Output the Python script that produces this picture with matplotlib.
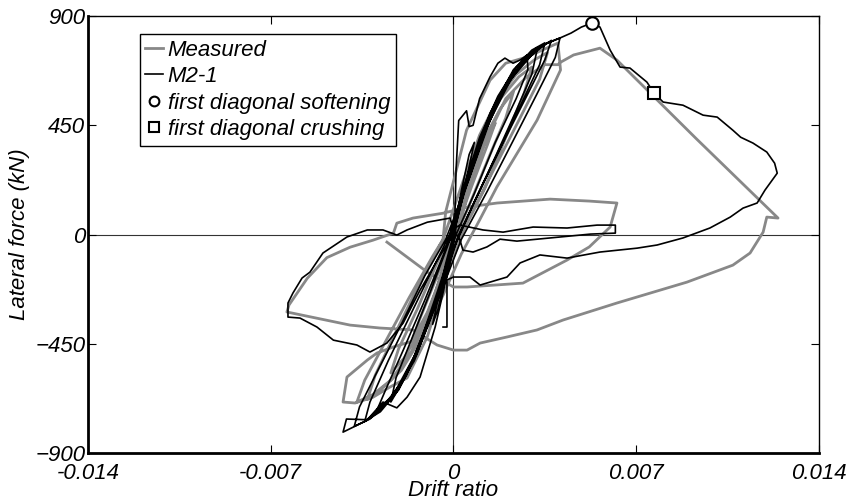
import numpy as np
import matplotlib
matplotlib.use('Agg')
import matplotlib.pyplot as plt
from matplotlib.lines import Line2D

# drift values below are in units of 1e-3, forces in kN

# measured: small elastic cycles
meas_small_drift = [0, 0.4, 0.8, 1.0, 0.7, 0.3, 0, -0.4, -0.8, -1.0, -0.7, -0.3, 0,
                    0.5, 1.0, 1.6, 1.3, 0.7, 0.1, -0.5, -1.0, -1.6, -1.3, -0.7, -0.1,
                    0.6, 1.2, 1.8, 2.3, 2.0, 1.4, 0.6, 0.0, -0.6, -1.3, -1.9, -2.4, -2.1, -1.4, -0.6, 0.0,
                    0.5, 1.1, 1.8, 2.5, 3.0, 2.7, 2.0, 1.2, 0.4, -0.5, -1.2, -2.0, -2.8, -3.3, -3.0, -2.2, -1.3, -0.4,
                    0.4, 1.0, 1.7, 2.4, 3.1, 3.6, 3.3, 2.5, 1.6, 0.7, -0.1, -0.8, -1.6, -2.4, -3.1, -3.7,
                    -3.4, -2.6, -1.7, -0.8, -0.4]
meas_small_force = [0, 150, 290, 340, 250, 110, 0, -150, -280, -330, -240, -100, 0,
                    190, 330, 460, 370, 200, 20, -180, -320, -440, -350, -190, -20,
                    230, 400, 520, 590, 480, 330, 120, -30, -230, -400, -510, -570, -470, -310, -110, 20,
                    240, 420, 560, 650, 690, 580, 400, 190, 20, -230, -420, -560, -640, -680, -580, -400, -200, -20,
                    230, 410, 560, 660, 720, 750, 640, 470, 280, 90, -80, -300, -480, -600, -660, -690,
                    -600, -440, -260, -90, -20]

# measured: largest pre-peak cycle
meas_cycle_drift = [-0.3, 0.5, 1.4, 2.0, 2.8, 4.0, 4.1, 3.2, 1.66, 1.0, 0.3, -0.4, -1.0, -1.6,
                    -2.3, -2.93, -3.3, -4.08, -4.23, -3.77, -3.08, -2.43, -1.78, -1.0, -0.5, 0.0,
                    0.5, 1.2, 2.0, 2.8, 3.5, 4.0]
meas_cycle_force = [93, 430, 636, 706, 731, 789, 678, 471, 196, 60, -80, -250, -380, -440,
                    -463, -488, -517, -587, -690, -694, -670, -628, -591, -420, -250, -60,
                    150, 380, 560, 650, 700, 700]

# measured: big excursion and the degraded cycles after it
meas_post_drift = [4.1, 4.6, 5.61, 6.26, 9.3, 12.43, 12.0, 11.86, 11.36, 10.7, 8.94, 6.26, 4.2,
                   3.2, 2.05, 1.02, 0.52, 0.0, -0.63, -1.55, -2.82, -3.96, -6.38,
                   -6.3, -5.6, -4.85, -3.96, -3.08, -2.3, -2.17, -1.55, -0.4, 0.52, 1.67,
                   3.7, 5.2, 6.26, 6.0, 5.2, 4.35, 2.66, 0.52, 0.0, -1.0, -2.55]
meas_post_force = [710, 740, 768, 719, 395, 68, 72, 10, -76, -126, -196, -282, -352,
                   -393, -422, -447, -476, -476, -455, -393, -385, -373, -319,
                   -290, -180, -95, -52, -23, 6, 47, 68, 88, 113, 130,
                   146, 138, 130, 31, -51, -105, -200, -216, -216, -155, -31]

# M2-1 model: cycles
m21_small_drift = [0, 0.3, 0.6, 0.8, 0.6, 0.3, 0, -0.3, -0.6, -0.8, -0.6, -0.3, 0,
                   0.05, 0.1, 0.2, 0.5, 0.6, 0.75, 1.0, 1.4, 1.7, 1.97, 2.28, 2.55, 2.82,
                   2.85, 2.4, 1.6, 0.8, 0.1, -0.6, -1.2, -1.8, -2.4, -2.2, -1.6, -0.9, -0.2,
                   0.5, 1.2, 1.9, 2.6, 3.2, 3.0, 2.4, 1.6, 0.7, 0, -0.7, -1.5, -2.3, -2.93,
                   -2.6, -1.9, -1.1, -0.3,
                   0.4, 1.0, 1.7, 2.4, 3.0, 3.5, 3.3, 2.6, 1.8, 0.9, 0.1, -0.6, -1.4, -2.1,
                   -2.8, -3.4, -3.2, -2.5, -1.6, -0.7, -0.1,
                   0.5, 1.3, 2.0, 2.7, 3.3, 3.75, 3.5, 2.8, 2.0, 1.1, 0.2, -0.5, -1.3, -2.0,
                   -2.7, -3.2, -3.8, -3.6, -2.9, -2.0, -1.1, -0.3,
                   0.6, 1.4, 2.2, 3.0, 3.6, 4.08, 3.9, 3.2, 2.3, 1.3, 0.3, -0.6, -1.5, -2.4,
                   -3.4, -4.23, -4.1, -3.3, -2.7, -2.17, -1.78, -1.28, -0.7, -0.1]
m21_small_force = [0, 180, 330, 380, 280, 130, 0, -170, -310, -370, -270, -120, 0,
                   60, 270, 470, 510, 445, 450, 560, 650, 706, 727, 706, 719, 740,
                   680, 560, 380, 170, 0, -230, -420, -580, -690, -590, -430, -240, -40,
                   200, 420, 590, 700, 760, 660, 510, 320, 110, -60, -280, -500, -660, -723,
                   -640, -470, -270, -60,
                   200, 400, 570, 690, 760, 790, 700, 540, 360, 160, -30, -260, -490, -640,
                   -730, -770, -690, -520, -320, -120, 10,
                   220, 460, 620, 720, 770, 800, 720, 570, 400, 200, 0, -240, -460, -610,
                   -710, -760, -790, -710, -560, -370, -170, -20,
                   230, 470, 640, 740, 790, 810, 730, 580, 390, 180, -20, -270, -520, -680,
                   -770, -814, -760, -763, -690, -714, -670, -587, -380, -100]

# M2-1 model: flat positive loop and wide negative loop
m21_mid_drift = [0.1, 0.25, 1.13, 1.9, 3.05, 4.35, 5.5, 6.2, 6.2, 5.25, 3.7, 2.43, 1.78, 1.28,
                 0.75, 0.36, 0.25, 0.0, -0.13, -1.0, -1.78, -2.17, -2.7, -3.3, -4.08, -5.0,
                 -5.5, -5.8, -6.15, -6.34, -6.34, -5.88, -5.23, -4.6, -3.7, -3.2, -2.55,
                 -1.93, -1.28, -0.5, 0.0, 0.6, 1.4, 2.3, 3.2, 4.08]
m21_mid_force = [30, 39, 19, 10, 31, 27, 39, 39, 6, 2, -14, -27, -19, -51,
                 -72, -64, -23, 20, 68, 51, 19, -2, 19, 19, -10, -76,
                 -155, -179, -241, -282, -340, -344, -381, -435, -455, -484, -447,
                 -365, -229, -84, 0, 260, 500, 680, 770, 810]

# M2-1 model: final excursion past the peak
m21_post_drift = [4.5, 4.9, 5.29, 5.61, 6.0, 6.38, 6.76, 7.41, 7.68, 8.03, 8.79, 9.56, 10.1,
                  10.7, 11.0, 11.47, 12.0, 12.3, 12.4, 11.93, 11.63, 11.09, 10.6, 9.82, 8.79,
                  7.8, 7.03, 5.61, 4.35, 3.31, 2.55, 2.05, 1.02, 0.63, 0.0, -0.25, -0.25, -0.4]
m21_post_force = [830, 855, 871, 855, 760, 690, 686, 628, 583, 546, 533, 492, 484,
                  430, 401, 377, 340, 294, 253, 183, 130, 109, 72, 27, -14,
                  -43, -56, -72, -97, -84, -117, -175, -208, -175, -175, -187, -381, -381]

# events
soft_drift, soft_force = 5.29, 870
crush_drift, crush_force = 7.68, 584

meas_x = np.concatenate([meas_small_drift, meas_cycle_drift, meas_post_drift]) * 1e-3
meas_y = np.concatenate([meas_small_force, meas_cycle_force, meas_post_force])
m21_x = np.concatenate([m21_small_drift, m21_mid_drift, m21_post_drift]) * 1e-3
m21_y = np.concatenate([m21_small_force, m21_mid_force, m21_post_force])

plt.rcParams['font.family'] = ['Liberation Sans', 'DejaVu Sans']
plt.rcParams['font.style'] = 'italic'
plt.rcParams['font.size'] = 16

fig = plt.figure(figsize=(8.55, 5.01), dpi=100)
ax = fig.add_axes([0.1029, 0.0958, 0.855, 0.872])

ax.axhline(0, color='#333333', lw=0.8, zorder=1)
ax.axvline(0, color='#333333', lw=0.8, zorder=1)

ax.plot(meas_x, meas_y, color='#888888', lw=2.0, zorder=2)
ax.plot(m21_x, m21_y, color='black', lw=1.2, zorder=3)
ax.plot(soft_drift * 1e-3, soft_force, 'o', ms=9, mfc='white', mec='black', mew=1.5, zorder=4)
ax.plot(crush_drift * 1e-3, crush_force, 's', ms=8.5, mfc='white', mec='black', mew=1.5, zorder=4)

ax.set_xlim(-0.014, 0.014)
ax.set_ylim(-900, 900)
ax.set_xticks([-0.014, -0.007, 0, 0.007, 0.014])
ax.set_xticklabels(['-0.014', '-0.007', '0', '0.007', '0.014'])
ax.set_yticks([-900, -450, 0, 450, 900])
ax.tick_params(axis='both', direction='in', length=6, top=True, right=True)
ax.tick_params(axis='x', pad=7)
ax.tick_params(axis='y', pad=2)
for s in ['left', 'bottom']:
    ax.spines[s].set_linewidth(2)
for s in ['top', 'right']:
    ax.spines[s].set_linewidth(1)

ax.set_xlabel('Drift ratio', labelpad=-3)
ax.set_ylabel('Lateral force (kN)', labelpad=4)

handles = [Line2D([], [], color='#888888', lw=2.0),
           Line2D([], [], color='black', lw=1.2),
           Line2D([], [], ls='none', marker='o', ms=7, mfc='white', mec='black', mew=1.5),
           Line2D([], [], ls='none', marker='s', ms=7, mfc='white', mec='black', mew=1.5)]
leg = ax.legend(handles, ['Measured', 'M2-1', 'first diagonal softening', 'first diagonal crushing'],
                loc='upper left', bbox_to_anchor=(0.071, 0.959), borderaxespad=0,
                handlelength=0.8, handletextpad=0.2, labelspacing=0.25, borderpad=0.25,
                fancybox=False, framealpha=1, edgecolor='black')
leg.get_frame().set_linewidth(1)

fig.savefig('out.png', dpi=100)
